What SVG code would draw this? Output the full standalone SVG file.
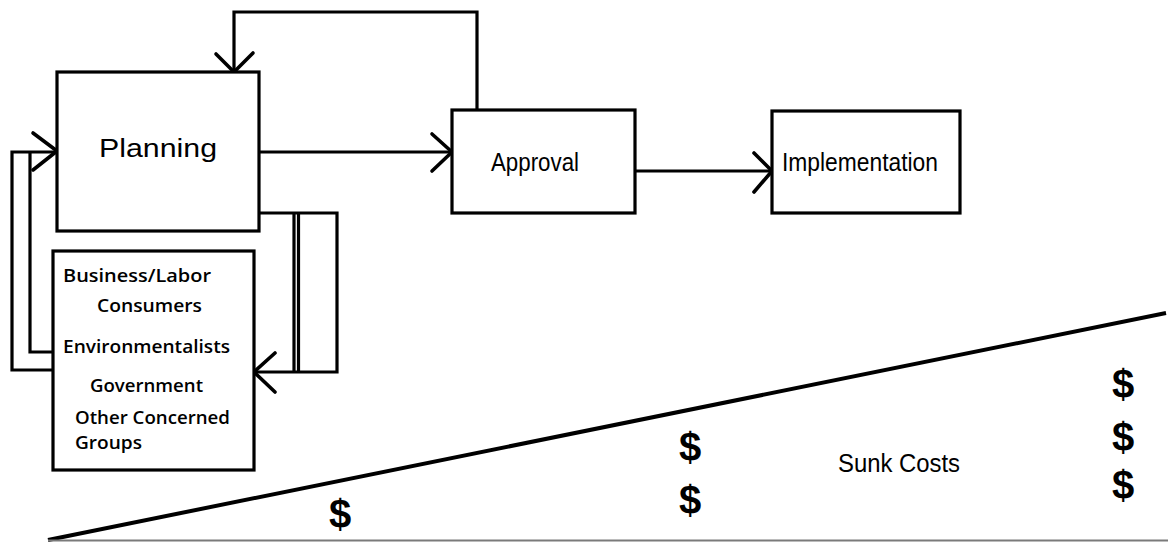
<svg xmlns="http://www.w3.org/2000/svg" width="1168" height="542" viewBox="0 0 1168 542">
  <style>
    .box { fill: #ffffff; stroke: #000000; stroke-width: 3.2; }
    .wire { fill: none; stroke: #000000; stroke-width: 3.2; stroke-linejoin: miter; }
    .head { fill: none; stroke: #000000; stroke-width: 3.6; stroke-linecap: round; stroke-linejoin: round; }
    .label { font-family: "Liberation Sans", Arial, sans-serif; font-size: 26px; fill: #000000; text-anchor: middle; }
    .group { font-family: "Open Sans", "Liberation Sans", sans-serif; font-weight: 600; font-size: 17.5px; fill: #000000; }
    .cash { font-family: "Liberation Sans", Arial, sans-serif; font-weight: bold; font-size: 40px; fill: #000000; text-anchor: middle; }
  </style>

  <!-- connectors -->
  <g id="connectors">
    <!-- Approval back to Planning (over the top) -->
    <polyline class="wire" points="477,110 477,12 234,12 234,72"/>
    <polyline class="head" points="216,54 234,72 253,53"/>
    <!-- Planning to Approval -->
    <line class="wire" x1="259" y1="152" x2="452" y2="152"/>
    <polyline class="head" points="432,134 452,152 432,171"/>
    <!-- Approval to Implementation -->
    <line class="wire" x1="635" y1="171" x2="772" y2="171"/>
    <polyline class="head" points="754,153 772,171 754,192"/>
    <!-- interest groups feed back into Planning (left side) -->
    <polyline class="wire" points="53,370 12,370 12,152 57,152"/>
    <polyline class="wire" points="53,352 30,352 30,153"/>
    <polyline class="head" points="33,133 57,151 33,170"/>
    <!-- Planning out to interest groups (right side) -->
    <polyline class="wire" points="259,213 337,213 337,372 253,372"/>
    <line class="wire" x1="294" y1="213" x2="294" y2="372" stroke-width="2.6"/>
    <line class="wire" x1="298.5" y1="213" x2="298.5" y2="372" stroke-width="2.6"/>
    <polyline class="head" points="275,353 254,372 275,392"/>
  </g>

  <!-- nodes -->
  <g id="planning">
    <rect class="box" x="57" y="72" width="202" height="159"/>
    <text class="label" x="158" y="157" textLength="118" lengthAdjust="spacingAndGlyphs">Planning</text>
  </g>

  <g id="approval">
    <rect class="box" x="452" y="110" width="183" height="103"/>
    <text class="label" x="535" y="171" textLength="88" lengthAdjust="spacingAndGlyphs">Approval</text>
  </g>

  <g id="implementation">
    <rect class="box" x="772" y="111" width="188" height="102"/>
    <text class="label" x="860" y="171" textLength="156" lengthAdjust="spacingAndGlyphs">Implementation</text>
  </g>

  <g id="interest-groups">
    <rect class="box" x="53" y="251" width="201" height="219"/>
    <text class="group" x="63" y="282" textLength="148" lengthAdjust="spacingAndGlyphs">Business/Labor</text>
    <text class="group" x="97" y="312" textLength="105" lengthAdjust="spacingAndGlyphs">Consumers</text>
    <text class="group" x="63" y="353" textLength="167" lengthAdjust="spacingAndGlyphs">Environmentalists</text>
    <text class="group" x="90" y="392" textLength="113" lengthAdjust="spacingAndGlyphs">Government</text>
    <text class="group" x="75" y="424" textLength="155" lengthAdjust="spacingAndGlyphs">Other Concerned</text>
    <text class="group" x="75" y="449" textLength="67" lengthAdjust="spacingAndGlyphs">Groups</text>
  </g>

  <!-- sunk cost wedge -->
  <g id="sunk-costs">
    <line x1="48" y1="540" x2="1166" y2="313" stroke="#000000" stroke-width="4"/>
    <line x1="48" y1="540.5" x2="1168" y2="540.5" stroke="#7a7a7a" stroke-width="2"/>
    <text class="cash" x="340" y="528">$</text>
    <text class="cash" x="690" y="461">$</text>
    <text class="cash" x="690" y="514">$</text>
    <text class="cash" x="1123" y="398">$</text>
    <text class="cash" x="1123" y="451">$</text>
    <text class="cash" x="1123" y="499">$</text>
    <text class="label" x="899" y="472" font-size="25" textLength="122" lengthAdjust="spacingAndGlyphs">Sunk Costs</text>
  </g>
</svg>
